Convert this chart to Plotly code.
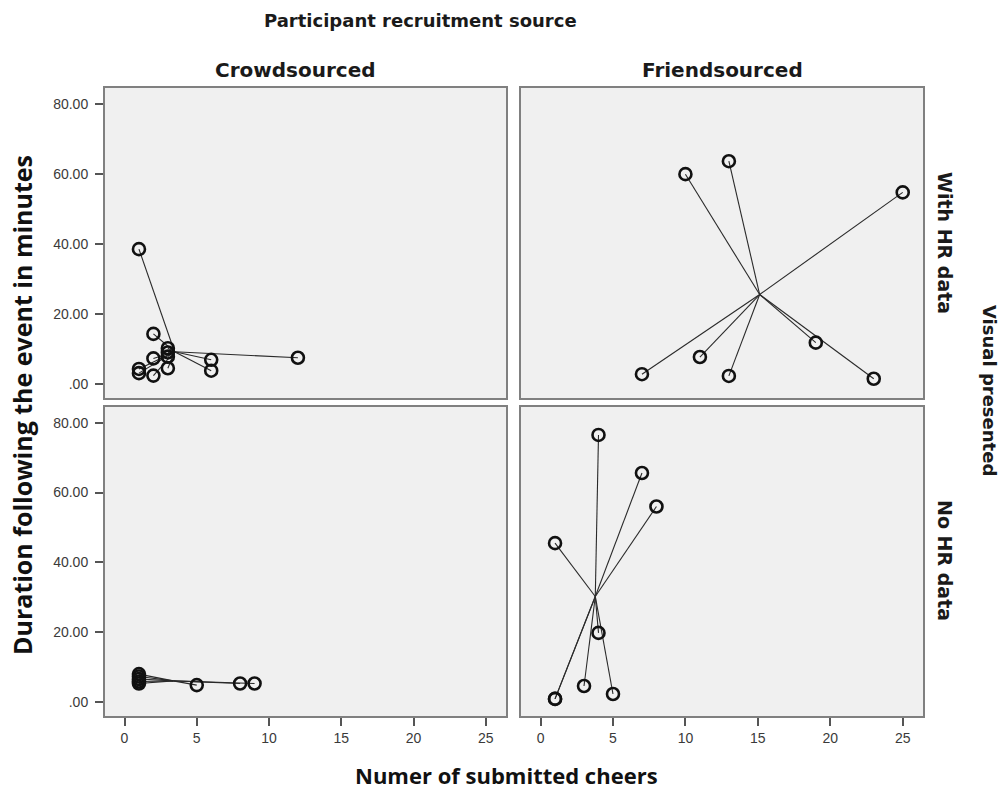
import plotly.graph_objects as go

# ---- data ----
crowd_hr_x = [1, 2, 3, 3, 3, 2, 3, 1, 1, 2, 6, 6, 12]
crowd_hr_y = [38.5, 14.3, 10.2, 9.0, 7.8, 7.3, 4.5, 4.3, 3.1, 2.4, 6.9, 3.8, 7.5]

friend_hr_x = [10, 13, 25, 7, 11, 13, 19, 23]
friend_hr_y = [59.9, 63.6, 54.7, 2.8, 7.7, 2.3, 11.8, 1.5]

crowd_nohr_x = [1, 1, 1, 1, 1, 5, 8, 9]
crowd_nohr_y = [8.0, 7.3, 6.6, 5.9, 5.3, 4.85, 5.3, 5.3]

friend_nohr_x = [4, 7, 8, 1, 4, 3, 5, 1, 1]
friend_nohr_y = [76.5, 65.6, 56.0, 45.5, 19.8, 4.6, 2.3, 0.9, 0.9]

x_ticks = [0, 5, 10, 15, 20, 25]
y_ticks = [0, 20, 40, 60, 80]
y_tick_labels = [".00", "20.00", "40.00", "60.00", "80.00"]

col_labels = ["Crowdsourced", "Friendsourced"]
row_labels = ["With HR data", "No HR data"]

panels = [
    (crowd_hr_x, crowd_hr_y, "x", "y"),
    (friend_hr_x, friend_hr_y, "x2", "y2"),
    (crowd_nohr_x, crowd_nohr_y, "x3", "y3"),
    (friend_nohr_x, friend_nohr_y, "x4", "y4"),
]

W, H = 1006, 792
fig = go.Figure()

for xs, ys, xa, ya in panels:
    cx = sum(xs) / len(xs)
    cy = sum(ys) / len(ys)
    lx, ly = [], []
    for x, y in zip(xs, ys):
        lx += [cx, x, None]
        ly += [cy, y, None]
    fig.add_trace(go.Scatter(x=lx, y=ly, mode="lines", xaxis=xa, yaxis=ya,
                             line=dict(color="#2a2a2a", width=1.1),
                             hoverinfo="skip", showlegend=False))
    fig.add_trace(go.Scatter(x=xs, y=ys, mode="markers", xaxis=xa, yaxis=ya,
                             marker=dict(symbol="circle-open", size=12, color="#111111",
                                         line=dict(width=2.6)),
                             showlegend=False))

xdom_l = [105 / W, 506 / W]
xdom_r = [521 / W, 923 / W]
ydom_t = [1 - 398 / H, 1 - 88 / H]
ydom_b = [1 - 716 / H, 1 - 407 / H]
xr = [-1.35, 26.4]
yr = [-4.0, 84.5]

tickfont = dict(family="Liberation Sans, Arial, sans-serif", size=14, color="#3a3a3a")
frame = dict(showline=True, mirror=True, linecolor="#808080", linewidth=2,
             showgrid=False, zeroline=False)

def xax(dom, anchor, labels):
    d = dict(domain=dom, anchor=anchor, range=xr, tickvals=x_ticks,
             ticks="outside" if labels else "", ticklen=8, tickwidth=2, tickcolor="#555555",
             showticklabels=labels, tickfont=tickfont, fixedrange=True)
    d.update(frame)
    return d

def yax(dom, anchor, labels):
    d = dict(domain=dom, anchor=anchor, range=yr, tickvals=y_ticks, ticktext=y_tick_labels,
             ticks="outside" if labels else "", ticklen=8, tickwidth=2, tickcolor="#555555",
             ticklabelstandoff=4,
             showticklabels=labels, tickfont=tickfont, fixedrange=True)
    d.update(frame)
    return d

head = dict(family="DejaVu Sans, sans-serif", size=18, color="#1a1a1a")
ytitle_font = dict(family="Open Sans, sans-serif", size=25, color="#111111")
xtitle_font = dict(family="Open Sans, sans-serif", size=22, color="#111111")

annotations = [
    dict(text="<b>Participant recruitment source</b>", x=420 / W, y=1 - 20 / H, font=head),
    dict(text="<b>" + col_labels[0] + "</b>", x=295 / W, y=1 - 70 / H, font=dict(head, size=20)),
    dict(text="<b>" + col_labels[1] + "</b>", x=722 / W, y=1 - 70 / H, font=dict(head, size=20)),
    dict(text="<b>" + row_labels[0] + "</b>", x=945 / W, y=1 - 243 / H, textangle=90, font=dict(head, size=19)),
    dict(text="<b>" + row_labels[1] + "</b>", x=945 / W, y=1 - 560 / H, textangle=90, font=dict(head, size=19)),
    dict(text="<b>Visual presented</b>", x=990 / W, y=1 - 390 / H, textangle=90, font=dict(head, size=18)),
    dict(text="<b>Duration following the event in minutes</b>", x=22 / W, y=1 - 405 / H,
         textangle=-90, font=ytitle_font),
    dict(text="<b>Numer of submitted cheers</b>", x=506 / W, y=1 - 775 / H, font=xtitle_font),
]
for a in annotations:
    a.update(xref="paper", yref="paper", showarrow=False, xanchor="center", yanchor="middle")

fig.update_layout(
    width=W, height=H,
    margin=dict(l=0, r=0, t=0, b=0),
    paper_bgcolor="white",
    plot_bgcolor="#f0f0f0",
    xaxis=xax(xdom_l, "y", False),
    yaxis=yax(ydom_t, "x", True),
    xaxis2=xax(xdom_r, "y2", False),
    yaxis2=yax(ydom_t, "x2", False),
    xaxis3=xax(xdom_l, "y3", True),
    yaxis3=yax(ydom_b, "x3", True),
    xaxis4=xax(xdom_r, "y4", True),
    yaxis4=yax(ydom_b, "x4", False),
    annotations=annotations,
    showlegend=False,
)

fig.write_html("out.html", config={"displayModeBar": False})
